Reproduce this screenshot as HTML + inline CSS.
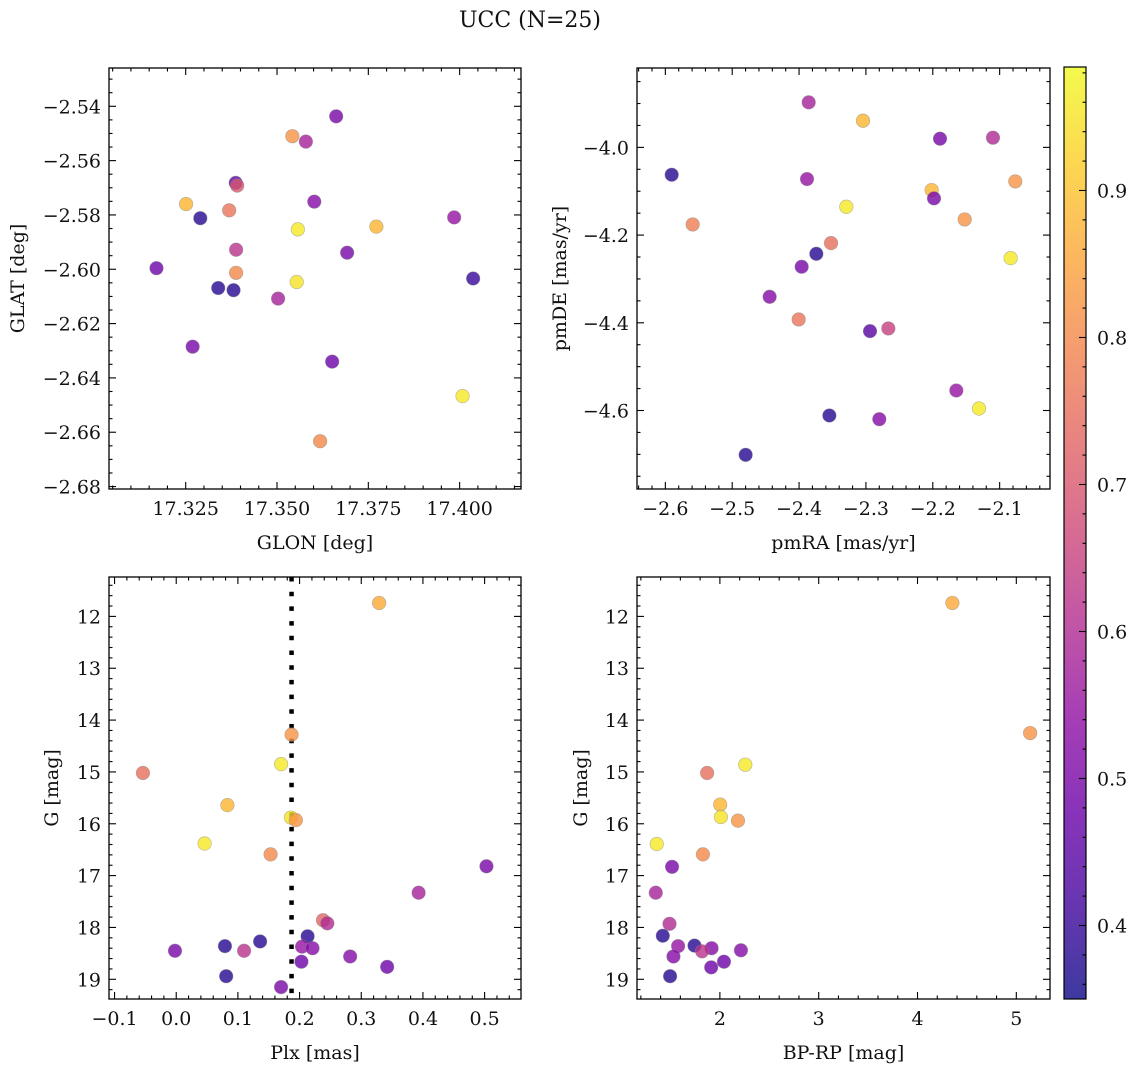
<!DOCTYPE html>
<html><head><meta charset="utf-8"><style>
html,body{margin:0;padding:0;background:#fff;}
svg{display:block;}
text{font-family:"DejaVu Serif","Liberation Serif",serif;fill:#111;}
</style></head><body>
<svg id="fig" width="1136" height="1067" viewBox="0 0 1136 1067" xmlns="http://www.w3.org/2000/svg">
<text x="530" y="27" font-size="22" text-anchor="middle">UCC (N=25)</text>
</svg>
<script>
// ---- Panel 1: GLON / GLAT ----
const glon = [17.3662,17.3542,17.3579,17.3387,17.3391,17.3251,17.3290,17.3369,17.3602,17.3557,17.3772,17.3985,17.3388,17.3692,17.3170,17.3388,17.4037,17.3554,17.3339,17.3381,17.3503,17.3269,17.3651,17.4008,17.3618];
const glat = [-2.5437,-2.5510,-2.5530,-2.5682,-2.5692,-2.5760,-2.5812,-2.5783,-2.5751,-2.5853,-2.5843,-2.5809,-2.5928,-2.5939,-2.5996,-2.6013,-2.6034,-2.6047,-2.6069,-2.6077,-2.6108,-2.6285,-2.6340,-2.6467,-2.6633];
const c1 = [0.50,0.82,0.58,0.45,0.70,0.88,0.38,0.76,0.52,0.96,0.88,0.55,0.62,0.50,0.48,0.80,0.40,0.95,0.38,0.38,0.58,0.50,0.48,0.96,0.80];
// ---- Panel 2: pmRA / pmDE ----
const pmra = [-2.3856,-2.3044,-2.1892,-2.1100,-2.5905,-2.3881,-2.2017,-2.1982,-2.0766,-2.3293,-2.1523,-2.5591,-2.3522,-2.3742,-2.3961,-2.0836,-2.4440,-2.4006,-2.2939,-2.2665,-2.1648,-2.1309,-2.3547,-2.2800,-2.4799];
const pmde = [-3.8973,-3.9392,-3.9802,-3.9779,-4.0624,-4.0722,-4.0973,-4.1163,-4.0776,-4.1354,-4.1643,-4.1757,-4.2183,-4.2426,-4.2722,-4.2525,-4.3407,-4.3924,-4.4190,-4.4129,-4.5544,-4.5954,-4.6114,-4.6198,-4.7011];
const c2 = [0.58,0.88,0.50,0.60,0.38,0.55,0.88,0.50,0.82,0.96,0.82,0.78,0.75,0.38,0.50,0.96,0.52,0.76,0.45,0.65,0.55,0.96,0.38,0.52,0.38];
// ---- Panel 3: Plx / G ----
const plx = [0.187,-0.054,0.170,0.083,0.186,0.194,0.046,0.153,0.503,0.393,0.238,0.245,0.213,0.136,0.079,0.204,0.221,-0.002,0.110,0.282,0.203,0.342,0.081,0.170,0.329];
const g3 = [14.28,15.02,14.85,15.64,15.88,15.93,16.38,16.59,16.82,17.33,17.86,17.92,18.17,18.27,18.36,18.37,18.40,18.45,18.45,18.56,18.66,18.76,18.94,19.15,11.74];
const c3 = [0.82,0.75,0.96,0.88,0.95,0.82,0.96,0.80,0.50,0.58,0.73,0.60,0.38,0.38,0.38,0.55,0.52,0.50,0.62,0.52,0.48,0.48,0.38,0.50,0.86];
const plxRef = 0.187;
// ---- Panel 4: BP-RP / G ----
const bprp = [2.257,1.871,2.003,2.010,2.183,1.361,1.828,1.516,1.351,1.490,1.422,1.577,1.743,1.916,1.820,2.213,1.530,2.041,1.912,1.496,4.353,5.140];
const g4 = [14.86,15.02,15.63,15.87,15.94,16.39,16.59,16.83,17.33,17.93,18.16,18.36,18.35,18.40,18.46,18.44,18.56,18.66,18.77,18.94,11.74,14.25];
const c4 = [0.96,0.75,0.88,0.95,0.82,0.96,0.80,0.50,0.58,0.60,0.38,0.55,0.38,0.52,0.62,0.52,0.52,0.48,0.48,0.38,0.86,0.82];
// ---- tick labels ----
const ticks1x = [17.325,17.350,17.375,17.400];
const ticks1y = [-2.54,-2.56,-2.58,-2.60,-2.62,-2.64,-2.66,-2.68];
const ticks2x = [-2.6,-2.5,-2.4,-2.3,-2.2,-2.1];
const ticks2y = [-4.0,-4.2,-4.4,-4.6];
const ticks3x = [-0.1,0.0,0.1,0.2,0.3,0.4,0.5];
const ticksG = [12,13,14,15,16,17,18,19];
const ticks4x = [2,3,4,5];
const ticksC = [0.4,0.5,0.6,0.7,0.8,0.9];
const cmin = 0.350, cmax = 0.984;

const NS = "http://www.w3.org/2000/svg";
const svg = document.getElementById('fig');
const FS = 19;
const PL = [[13,8,135],[65,4,157],[106,0,168],[143,13,164],[177,42,144],[204,71,120],[225,100,98],[242,132,75],[252,166,54],[252,206,37],[240,249,33]];
function plasma(t){
  t=Math.max(0,Math.min(1,t)); const f=t*10; const i=Math.min(9,Math.floor(f)); const u=f-i;
  const a=PL[i], b=PL[i+1];
  return 'rgb('+a.map((v,k)=>Math.round(v+(b[k]-v)*u)).join(',')+')';
}
function el(tag, attrs, parent){
  const e=document.createElementNS(NS,tag);
  for(const k in attrs) e.setAttribute(k,attrs[k]);
  (parent||svg).appendChild(e); return e;
}
function fmt(v,d){ const s=Math.abs(v).toFixed(d); return (v<0?'\u2212':'')+s; }

function panel(o){
  const g=el('g',{});
  
  
  const sx=v=>o.x0+(v-o.xmin)/(o.xmax-o.xmin)*(o.x1-o.x0);
  const sy=v=>o.y0+(v-o.ymax)/(o.ymin-o.ymax)*(o.y1-o.y0);
  const xmS=o.xmaj/o.xsub;
  for(let k=Math.ceil(o.xmin/xmS-1e-6);k*xmS<=o.xmax+1e-9;k++){
    const v=k*xmS; const isMaj=Math.abs(k%o.xsub)<1e-6; const L=isMaj?7:3.5; const px=sx(v);
    el('line',{x1:px,x2:px,y1:o.y1,y2:o.y1-L,stroke:'#000','stroke-width':1.1},g);
    el('line',{x1:px,x2:px,y1:o.y0,y2:o.y0+L,stroke:'#000','stroke-width':1.1},g);
  }
  const ymS=o.ymaj/o.ysub;
  const ylo=Math.min(o.ymin,o.ymax), yhi=Math.max(o.ymin,o.ymax);
  for(let k=Math.ceil(ylo/ymS-1e-6);k*ymS<=yhi+1e-9;k++){
    const v=k*ymS; const isMaj=Math.abs(Math.round(k)%o.ysub)===0; const L=isMaj?7:3.5; const py=sy(v);
    el('line',{x1:o.x0,x2:o.x0+L,y1:py,y2:py,stroke:'#000','stroke-width':1.1},g);
    el('line',{x1:o.x1,x2:o.x1-L,y1:py,y2:py,stroke:'#000','stroke-width':1.1},g);
  }
  o.xt.forEach(v=>{
    const t=el('text',{x:sx(v),y:o.y1+26,'font-size':FS,'text-anchor':'middle'},g);
    t.textContent=fmt(v,o.xd);
    
    
  });
  o.yt.forEach(v=>{
    const t=el('text',{x:o.x0-8,y:sy(v)+7,'font-size':FS,'text-anchor':'end'},g);
    t.textContent=fmt(v,o.yd);
    
    
  });
  const xl=el('text',{x:(o.x0+o.x1)/2,y:o.y1+60,'font-size':FS,'text-anchor':'middle'},g);
  xl.textContent=o.xlabel;
  
  
  const yl=el('text',{x:0,y:0,'font-size':FS,'text-anchor':'middle',transform:'translate('+o.ylx+','+((o.y0+o.y1)/2)+') rotate(-90)'},g);
  yl.textContent=o.ylabel;
  
  
  if(o.vline!==undefined){
    const ln=el('line',{x1:sx(o.vline),x2:sx(o.vline),y1:o.y0,y2:o.y1,stroke:'#000','stroke-width':4.5,'stroke-dasharray':'4.5 10.2'},g);
    
    
  }
  o.xs.forEach((v,i)=>{
    const t=(o.cs[i]-cmin)/(cmax-cmin);
    const c=el('circle',{cx:sx(v),cy:sy(o.ys[i]),r:6.8,fill:plasma(t),'fill-opacity':0.8,stroke:'#888','stroke-opacity':0.6,'stroke-width':0.6},g);
    
    
  });
  const fr=el('rect',{x:o.x0,y:o.y0,width:o.x1-o.x0,height:o.y1-o.y0,fill:'none',stroke:'#000','stroke-width':1.3},g);
  
  
}

panel({name:'glon-glat-panel',x0:109,x1:521,y0:68,y1:489,xmin:17.3040,xmax:17.4168,ymin:-2.6809,ymax:-2.5259,
  xmaj:0.025,xsub:5,ymaj:0.02,ysub:4,xt:ticks1x,yt:ticks1y,xd:3,yd:2,xlabel:'GLON [deg]',ylabel:'GLAT [deg]',ylx:24,
  xs:glon,ys:glat,cs:c1});
panel({name:'proper-motion-panel',x0:637,x1:1050,y0:68,y1:489,xmin:-2.6424,xmax:-2.0247,ymin:-4.779,ymax:-3.819,
  xmaj:0.1,xsub:5,ymaj:0.2,ysub:4,xt:ticks2x,yt:ticks2y,xd:1,yd:1,xlabel:'pmRA [mas/yr]',ylabel:'pmDE [mas/yr]',ylx:566,
  xs:pmra,ys:pmde,cs:c2});
panel({name:'parallax-g-panel',x0:109,x1:521,y0:577,y1:999,xmin:-0.109,xmax:0.559,ymin:19.38,ymax:11.24,
  xmaj:0.1,xsub:5,ymaj:1,ysub:5,xt:ticks3x,yt:ticksG,xd:1,yd:0,xlabel:'Plx [mas]',ylabel:'G [mag]',ylx:58,
  xs:plx,ys:g3,cs:c3,vline:plxRef});
panel({name:'cmd-panel',x0:637,x1:1050,y0:577,y1:999,xmin:1.161,xmax:5.341,ymin:19.38,ymax:11.24,
  xmaj:1,xsub:5,ymaj:1,ysub:5,xt:ticks4x,yt:ticksG,xd:0,yd:0,xlabel:'BP-RP [mag]',ylabel:'G [mag]',ylx:587,
  xs:bprp,ys:g4,cs:c4});

// ---- colorbar ----
const cb={x0:1064,x1:1086,y0:67,y1:999};
const defs=el('defs',{});
const lg=el('linearGradient',{id:'cbg',x1:0,y1:1,x2:0,y2:0},defs);
for(let i=0;i<=20;i++){ el('stop',{offset:(i/20),'stop-color':plasma(i/20),'stop-opacity':0.8},lg); }
const cbg=el('g',{});


el('rect',{x:cb.x0,y:cb.y0,width:cb.x1-cb.x0,height:cb.y1-cb.y0,fill:'url(#cbg)'},cbg);
const cy=v=>cb.y1-(v-cmin)/(cmax-cmin)*(cb.y1-cb.y0);
for(let k=Math.ceil(cmin/0.02);k*0.02<=cmax;k++){
  const v=k*0.02; const maj=k%5===0; const py=cy(v);
  el('line',{x1:cb.x1,x2:cb.x1-(maj?7:3.5),y1:py,y2:py,stroke:'#000','stroke-width':1.1},cbg);
}
ticksC.forEach(v=>{
  const t=el('text',{x:cb.x1+11,y:cy(v)+7,'font-size':FS},cbg);
  t.textContent=v.toFixed(1);
  
  
});
el('rect',{x:cb.x0,y:cb.y0,width:cb.x1-cb.x0,height:cb.y1-cb.y0,fill:'none',stroke:'#000','stroke-width':1.2},cbg);
</script>
</body></html>
